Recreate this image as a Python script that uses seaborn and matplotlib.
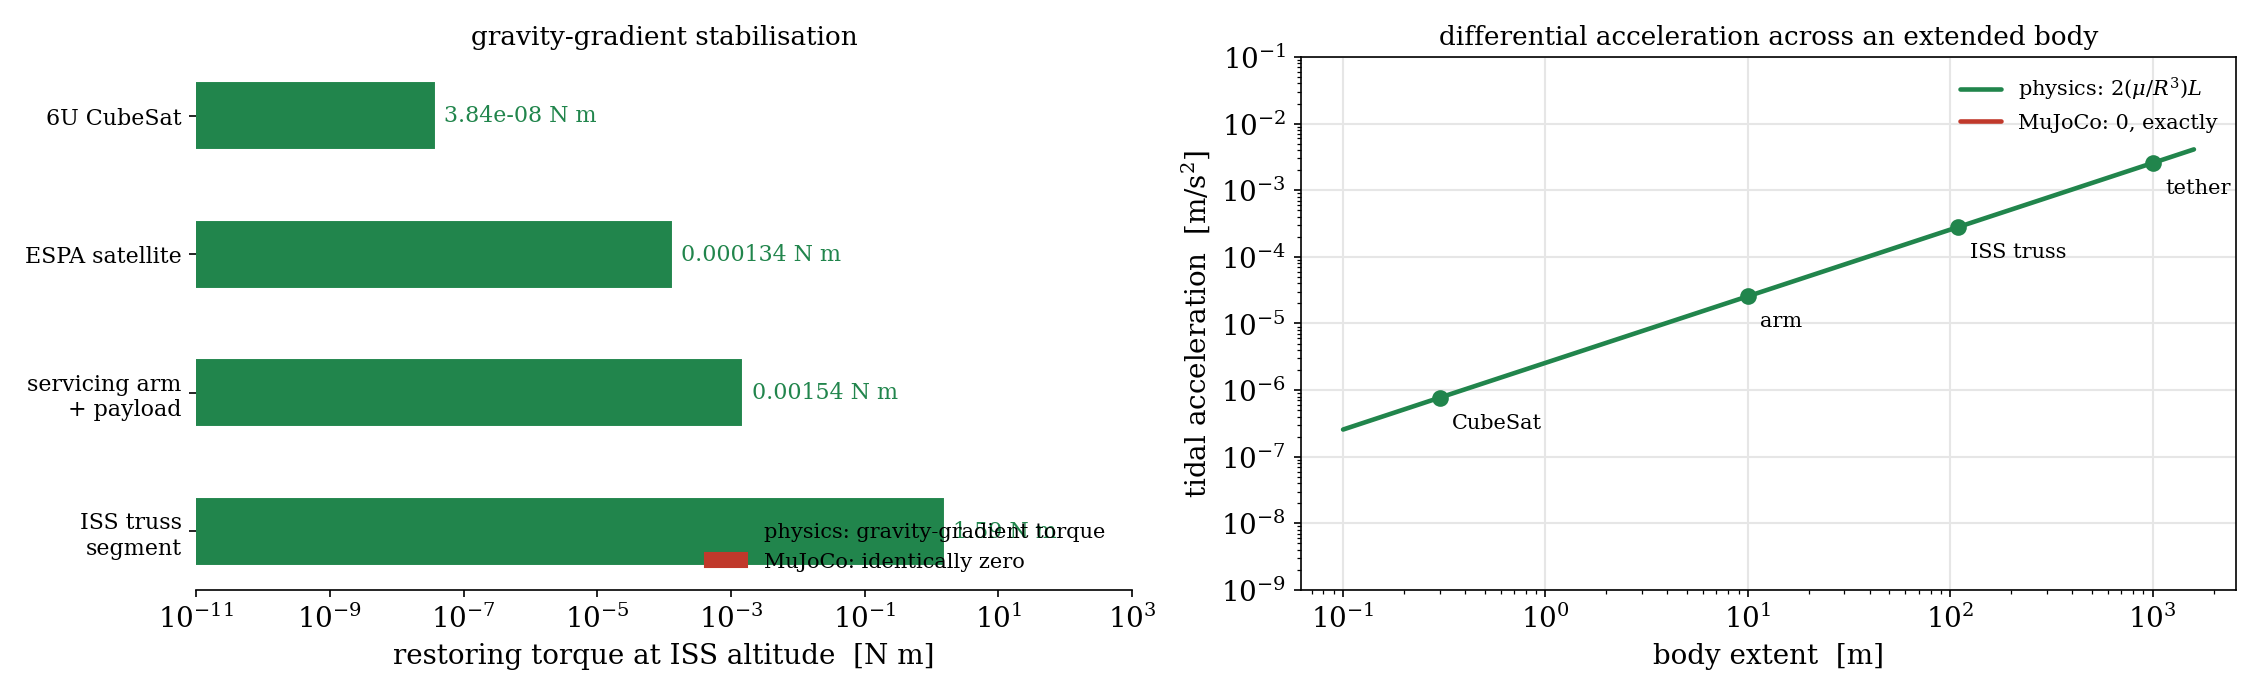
import numpy as np
import pandas as pd
import matplotlib
matplotlib.use("Agg")
import matplotlib.pyplot as plt
import seaborn as sns
from matplotlib.patches import Patch
from matplotlib.ticker import NullLocator

GREEN = "#21854c"
RED = "#c0392b"

# left panel: gravity-gradient torque per body
bodies = ["6U CubeSat", "ESPA satellite", "servicing arm\n+ payload", "ISS truss\nsegment"]
torque_physics = [3.84e-08, 1.34e-04, 1.54e-03, 1.59]
torque_mujoco = [0.0, 0.0, 0.0, 0.0]

# right panel: tidal acceleration vs body extent
line_extent = [0.1, 0.3, 10.0, 109.0, 1000.0, 1600.0]
line_accel = [2.56e-07, 7.7e-07, 2.56e-05, 2.79e-04, 2.56e-03, 4.1e-03]
pt_names = ["CubeSat", "arm", "ISS truss", "tether"]
pt_extent = [0.3, 10.0, 109.0, 1000.0]
pt_accel = [7.7e-07, 2.56e-05, 2.79e-04, 2.56e-03]

sns.set_style("ticks")
plt.rcParams["font.family"] = ["DejaVu Serif"]
plt.rcParams["mathtext.fontset"] = "dejavuserif"
plt.rcParams.update({"text.color": "black", "axes.labelcolor": "black",
                     "axes.edgecolor": "black", "xtick.color": "black",
                     "ytick.color": "black"})

fig, (ax1, ax2) = plt.subplots(1, 2, figsize=(15.03, 4.67), dpi=150)
fig.subplots_adjust(left=0.087, right=0.992, bottom=0.157, top=0.918, wspace=0.18)

# ---- left: bars
df = pd.DataFrame({"body": bodies, "torque": torque_physics})
ax1.set_xscale("log")
sns.barplot(data=df, x="torque", y="body", orient="h", width=0.5,
            color=GREEN, saturation=1, ax=ax1)
ax1.set_xlim(1e-11, 1e3)
ax1.set_ylim(3.425, -0.425)
ax1.set_xticks([10.0 ** k for k in range(-11, 4, 2)])
ax1.xaxis.set_minor_locator(NullLocator())
for i, v in enumerate(torque_physics):
    ax1.annotate(f"{v:.3g} N m", (v, i), xytext=(4, 0), textcoords="offset points",
                 va="center", ha="left", color=GREEN, fontsize=10.6)
ax1.set_ylabel("")
ax1.set_xlabel("restoring torque at ISS altitude  [N m]", fontsize=13.3)
ax1.set_title("gravity-gradient stabilisation", fontsize=12.6)
ax1.tick_params(axis="y", labelsize=10.6)
ax1.tick_params(axis="x", labelsize=13.3)
sns.despine(ax=ax1, left=True)
ax1.legend(handles=[Patch(color=GREEN, label="physics: gravity-gradient torque"),
                    Patch(color=RED, label="MuJoCo: identically zero")],
           loc="lower right", bbox_to_anchor=(0.991, 0.0),
           frameon=False, fontsize=10)

# ---- right: log-log line
ax2.set_xscale("log")
ax2.set_yscale("log")
sns.lineplot(x=line_extent, y=line_accel, color=GREEN, lw=2.2, ax=ax2,
             label=r"physics: $2(\mu/R^3)L$")
ax2.plot(pt_extent, pt_accel, "o", color=GREEN, ms=7)
ax2.plot([], [], color=RED, lw=2.2, label="MuJoCo: 0, exactly")
for n, x, y in zip(pt_names, pt_extent, pt_accel):
    ax2.annotate(n, (x, y), xytext=(6, -12), textcoords="offset points",
                 fontsize=10, ha="left", va="center")
ax2.set_ylim(1e-9, 1e-1)
ax2.grid(True, which="major", color="#e6e6e6", lw=1)
ax2.set_xlabel("body extent  [m]", fontsize=13.3)
ax2.set_ylabel(r"tidal acceleration  [m/s$^2$]", fontsize=13.3)
ax2.set_title("differential acceleration across an extended body", fontsize=12.6)
ax2.tick_params(axis="both", labelsize=13.3)
ax2.legend(loc="upper right", frameon=False, fontsize=10)

fig.savefig("out.png", dpi=150)
